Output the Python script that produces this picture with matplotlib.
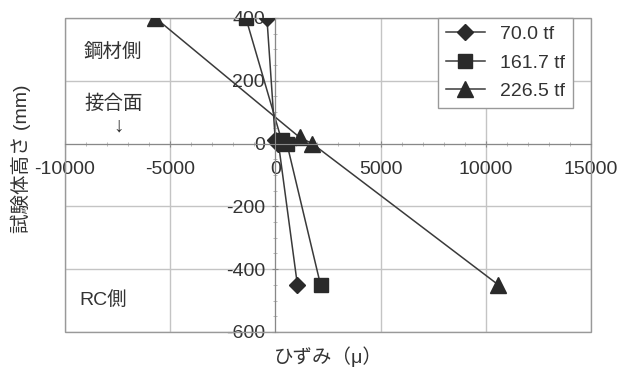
import matplotlib
matplotlib.use("Agg")
import matplotlib.pyplot as plt
from matplotlib.patches import Rectangle
from matplotlib.ticker import MultipleLocator

plt.rcParams['font.family'] = ['Liberation Sans', 'Noto Sans CJK JP', 'DejaVu Sans']
plt.rcParams['axes.unicode_minus'] = False

# strain (micro) vs. specimen height (mm) for each load level
labels = ['70.0 tf', '161.7 tf', '226.5 tf']
markers = ['D', 's', '^']
strain_70 = [-400, 0, 150, 1050]
height_70 = [400, 10, 0, -450]
strain_161 = [-1400, 300, 550, 2150]
height_161 = [400, 10, 0, -450]
strain_226 = [-5700, 1150, 1750, 10600]
height_226 = [400, 20, 0, -450]

series = [(strain_70, height_70), (strain_161, height_161), (strain_226, height_226)]
msizes = [8, 10, 11]

fig = plt.figure(figsize=(6.24, 3.73), dpi=100)
ax = fig.add_axes([0.104, 0.110, 0.843, 0.842])

ax.set_xlim(-10000, 15000)
ax.set_ylim(-600, 400)
ax.xaxis.set_major_locator(MultipleLocator(5000))
ax.xaxis.set_minor_locator(MultipleLocator(1000))
ax.yaxis.set_major_locator(MultipleLocator(200))
ax.yaxis.set_minor_locator(MultipleLocator(50))
ax.grid(True, which='major', color='#c4c4c4', linewidth=1.0)
ax.set_axisbelow(True)

for (xs, ys), lab, m, ms in zip(series, labels, markers, msizes):
    ax.plot(xs, ys, color='#3a3a3a', linewidth=1.1, marker=m, markersize=ms,
            markerfacecolor='#2a2a2a', markeredgecolor='#2a2a2a', label=lab)

# axes cross at zero like the original spreadsheet chart
ax.spines['left'].set_position(('data', 0))
ax.spines['bottom'].set_position(('data', 0))
ax.spines['left'].set_color('#888888')
ax.spines['bottom'].set_color('#888888')
ax.spines['top'].set_visible(False)
ax.spines['right'].set_visible(False)
ax.add_patch(Rectangle((0, 0), 1, 1, transform=ax.transAxes, fill=False,
                       edgecolor='#999999', linewidth=1.0, clip_on=False))

ax.tick_params(which='major', direction='inout', length=5, color='#888888',
               labelsize=14, labelcolor='#333333')
ax.tick_params(axis='x', which='major', pad=10)
ax.tick_params(axis='y', which='major', pad=5)
ax.tick_params(which='minor', direction='inout', length=3, color='#aaaaaa')

ax.set_xlabel('ひずみ（μ）', fontsize=14, color='#333333')
ax.xaxis.set_label_coords(0.5, -0.045)
ax.set_ylabel('試験体高さ (mm)', fontsize=14, color='#333333')
ax.yaxis.set_label_coords(-0.065, 0.55)

ax.text(-7700, 293, '鋼材側', fontsize=14, color='#333333', ha='center', va='center')
ax.text(-7700, 127, '接合面', fontsize=14, color='#333333', ha='center', va='center')
ax.text(-7450, 55, '↓', fontsize=15, color='#333333', ha='center', va='center')
ax.text(-8200, -497, 'RC側', fontsize=14, color='#333333', ha='center', va='center')

leg = ax.legend(loc='upper right', bbox_to_anchor=(0.966, 1.0), fontsize=14,
                frameon=True, fancybox=False, edgecolor='#999999', framealpha=1,
                borderaxespad=0, handlelength=2.0, labelspacing=0.55)
for t in leg.get_texts():
    t.set_color('#333333')

fig.savefig('out.png', dpi=100)
